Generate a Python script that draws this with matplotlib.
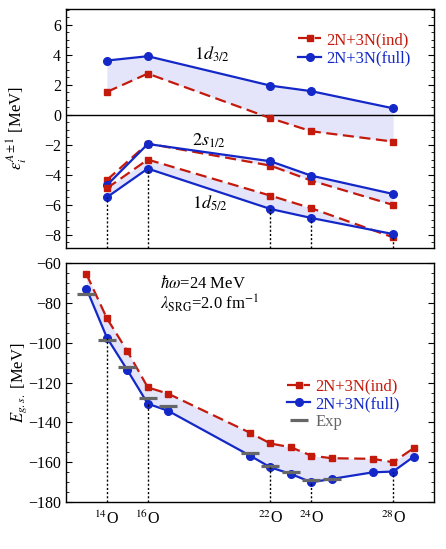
import matplotlib.pyplot as plt
from matplotlib.ticker import MultipleLocator

plt.rcParams['font.family'] = ['Liberation Serif', 'DejaVu Serif']
plt.rcParams['mathtext.fontset'] = 'stix'
plt.rcParams['font.size'] = 11.5

# data: single-particle energies (top) and ground-state energies (bottom)
iso_x = [14, 16, 22, 24, 28]
iso_labels = ['$^{14}$O', '$^{16}$O', '$^{22}$O', '$^{24}$O', '$^{28}$O']

d32_ind = [1.51, 2.73, -0.24, -1.11, -1.80]
d32_full = [3.60, 3.89, 1.93, 1.56, 0.42]
s12_ind = [-4.36, -1.93, -3.40, -4.40, -6.02]
s12_full = [-4.71, -1.96, -3.11, -4.07, -5.29]
d52_ind = [-4.91, -3.00, -5.40, -6.24, -8.18]
d52_full = [-5.51, -3.60, -6.29, -6.89, -7.96]

mass = [13, 14, 15, 16, 17, 21, 22, 23, 24, 25, 27, 28, 29]
egs_ind = [-65.5, -87.7, -104.2, -122.4, -125.6, -145.2, -150.6, -152.5,
           -156.7, -158.0, -158.3, -160.0, -153.0]
egs_full = [-72.8, -97.4, -113.7, -130.6, -134.2, -156.7, -162.6, -165.9,
            -170.1, -168.4, -165.1, -164.7, -157.3]
exp_mass = [13, 14, 15, 16, 17, 21, 22, 23, 24, 25]
exp_egs = [-75.6, -98.7, -112.0, -127.6, -131.8, -155.2, -162.0, -164.8,
           -169.0, -168.2]

red = '#c41a0c'
blue = '#1428c8'
fillc = '#e4e4fb'
grey = '#666666'

fig = plt.figure(figsize=(4.46, 5.49), dpi=100)
ax1 = fig.add_axes([0.148, 0.548, 0.825, 0.436])
ax2 = fig.add_axes([0.148, 0.0856, 0.825, 0.435])

ind_kw = dict(color=red, lw=1.6, dashes=(5, 2.5), marker='s', ms=5)
full_kw = dict(color=blue, lw=1.6, marker='o', ms=5.5)

# ---- top panel
ax1.axhline(0, color='black', lw=1.0)
for ind, full in [(d32_ind, d32_full), (s12_ind, s12_full), (d52_ind, d52_full)]:
    ax1.fill_between(iso_x, ind, full, color=fillc, lw=0)
ax1.plot(iso_x, d32_ind, label='2N+3N(ind)', **ind_kw)
ax1.plot(iso_x, d32_full, label='2N+3N(full)', **full_kw)
ax1.plot(iso_x, s12_ind, **ind_kw)
ax1.plot(iso_x, s12_full, **full_kw)
ax1.plot(iso_x, d52_ind, **ind_kw)
ax1.plot(iso_x, d52_full, **full_kw)

ymin1 = -8.9
for i, x in enumerate(iso_x):
    low = min(d52_ind[i], d52_full[i])
    ax1.plot([x, x], [ymin1, low], color='black', lw=1.0, ls=(0, (1.5, 1.5)))

ax1.text(19.14, 4.0, '$1d_{3/2}$', ha='center', va='center', fontsize=13)
ax1.text(19.0, -1.78, '$2s_{1/2}$', ha='center', va='center', fontsize=13)
ax1.text(19.05, -5.93, '$1d_{5/2}$', ha='center', va='center', fontsize=13)

ax1.set_xlim(12, 30)
ax1.set_ylim(ymin1, 7.05)
ax1.set_xticks([])
ax1.yaxis.set_major_locator(MultipleLocator(2))
ax1.yaxis.set_minor_locator(MultipleLocator(0.5))
ax1.set_ylabel(r'$\epsilon_i^{A\pm1}$ [MeV]', fontsize=12)
ax1.yaxis.set_label_coords(-0.1, 0.5)
leg1 = ax1.legend(loc='upper right', bbox_to_anchor=(0.955, 0.93), frameon=False,
                  borderaxespad=0, handlelength=1.4, handletextpad=0.3,
                  labelspacing=0.15, fontsize=12)
for t, c in zip(leg1.get_texts(), [red, blue]):
    t.set_color(c)

# ---- bottom panel
ax2.fill_between(mass, egs_ind, egs_full, color=fillc, lw=0)
ax2.plot(mass, egs_ind, label='2N+3N(ind)', **ind_kw)
ax2.plot(mass, egs_full, label='2N+3N(full)', **full_kw)
ax2.plot(exp_mass, exp_egs, ls='none', marker='_', ms=13.5, mew=2.3,
         color=grey, label='Exp')

ymin2 = -180
for x in iso_x:
    ax2.plot([x, x], [ymin2, egs_full[mass.index(x)]], color='black', lw=1.0,
             ls=(0, (1.5, 1.5)))

ax2.text(0.255, 0.87, '$\\hbar\\omega$=24 MeV\n$\\lambda_{\\rm SRG}$=2.0 fm$^{-1}$',
         transform=ax2.transAxes, ha='left', va='center', fontsize=12,
         linespacing=1.05)

ax2.set_xlim(12, 30)
ax2.set_ylim(ymin2, -60)
ax2.set_xticks(iso_x)
ax2.set_xticklabels(iso_labels)
ax2.tick_params(axis='x', length=0, pad=6)
ax2.yaxis.set_major_locator(MultipleLocator(20))
ax2.yaxis.set_minor_locator(MultipleLocator(5))
ax2.set_ylabel('$E_{g.s.}$ [MeV]', fontsize=12)
ax2.yaxis.set_label_coords(-0.1, 0.5)
leg2 = ax2.legend(loc='upper right', bbox_to_anchor=(0.925, 0.545), frameon=False,
                  borderaxespad=0, handlelength=1.4, handletextpad=0.3,
                  labelspacing=0.1, fontsize=12)
for t, c in zip(leg2.get_texts(), [red, blue, grey]):
    t.set_color(c)

for ax in (ax1, ax2):
    ax.tick_params(axis='y', which='both', direction='in', left=True, right=True)
    ax.tick_params(axis='y', which='major', length=4)
    ax.tick_params(axis='y', which='minor', length=2)
    for s in ax.spines.values():
        s.set_linewidth(1.0)

fig.savefig('out.png', dpi=100)
